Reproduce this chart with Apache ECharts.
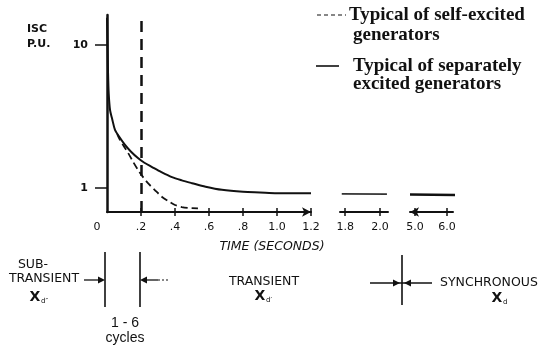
<!DOCTYPE html>
<html>
<head>
<meta charset="utf-8">
<title>Generator short-circuit current decay</title>
<script src="https://cdn.jsdelivr.net/npm/echarts@6/dist/echarts.min.js"></script>
<style>
  html, body { margin: 0; padding: 0; background: #fff; }
  #chart { width: 548px; height: 349px; }
</style>
</head>
<body>
<div id="chart"></div>
<script>
// ---- data (time in seconds, current in per-unit) ----
// separately excited generator, first part of the broken time axis (0 - 1.2 s)
const sepTime = [0, 0.003, 0.006, 0.01, 0.018, 0.03, 0.047, 0.07, 0.106, 0.14, 0.182, 0.22, 0.265, 0.32, 0.382, 0.44, 0.5, 0.58, 0.676, 0.8, 0.9, 1.0, 1.1, 1.2]
const sepIsc  = [15.5, 10, 6.5, 4.6, 3.5, 3.05, 2.55, 2.3, 2.0, 1.8, 1.62, 1.5, 1.4, 1.29, 1.19, 1.13, 1.08, 1.02, 0.97, 0.94, 0.93, 0.92, 0.92, 0.92]
// self excited generator (dashed), leaves the solid curve early
const selfTime = [0.06, 0.076, 0.1, 0.124, 0.15, 0.182, 0.21, 0.241, 0.28, 0.324, 0.36, 0.4, 0.44, 0.476, 0.535]
const selfIsc  = [2.38, 2.17, 1.95, 1.76, 1.55, 1.34, 1.2, 1.08, 0.97, 0.865, 0.81, 0.76, 0.735, 0.725, 0.72]
// later pieces of the broken axis
const sepTime2 = [1.78, 2.04]
const sepIsc2  = [0.91, 0.905]
const sepTime3 = [4.84, 6.56]
const sepIsc3  = [0.9, 0.89]
// end of sub-transient period (1 - 6 cycles)
const cycleMark = 0.195

// tick labels
const xTicks1 = [0.2, 0.4, 0.6, 0.8, 1.0, 1.2]
const xTicks2 = [1.8, 2.0]
const xTicks3 = [5.0, 6.0]
const yTicks = [1, 10]

const ink = '#111'
const sans = 'DejaVu Sans'
const serif = 'Liberation Serif'

const pairs = (xs, ys) => xs.map((x, i) => [x, ys[i]])

// y range of the log axis (same in all three pieces)
const yMin = 0.679
const yMax = 16.2

const logAxis = (grid, shown) => ({
  type: 'log',
  logBase: 10,
  gridIndex: grid,
  min: yMin,
  max: yMax,
  show: shown,
  axisLine: { show: shown, lineStyle: { color: ink, width: 2.5 } },
  axisTick: { show: shown, customValues: yTicks, length: 12, lineStyle: { color: ink, width: 1.5 } },
  axisLabel: {
    show: shown, customValues: yTicks, margin: 19,
    color: ink, fontFamily: sans, fontSize: 11, fontWeight: 'bold'
  },
  splitLine: { show: false }
})

const timeAxis = (grid, min, max, ticks, fmt, arrows) => ({
  type: 'value',
  gridIndex: grid,
  position: 'bottom',
  min: min,
  max: max,
  axisLine: { onZero: false, symbol: arrows, symbolSize: [7, 9], lineStyle: { color: ink, width: 2 } },
  axisTick: { customValues: ticks, length: 4, lineStyle: { color: ink, width: 1.5 } },
  axisLabel: {
    customValues: ticks, margin: 10, formatter: fmt,
    color: ink, fontFamily: sans, fontSize: 11
  },
  splitLine: { show: false }
})

// second x axis per piece, only for the part of the tick marks above the line
const upperTicks = (grid, min, max, ticks) => ({
  type: 'value',
  gridIndex: grid,
  position: 'bottom',
  min: min,
  max: max,
  axisLine: { show: false, onZero: false },
  axisTick: { inside: true, customValues: ticks, length: 4, lineStyle: { color: ink, width: 1.5 } },
  axisLabel: { show: false },
  splitLine: { show: false }
})

const fmtMain = v => (v < 1 ? '.' + Math.round(v * 10) : v.toFixed(1))
const fmtOne = v => v.toFixed(1)

const chart = echarts.init(document.getElementById('chart'), null, { renderer: 'canvas' })

const option = {
  backgroundColor: '#fff',
  animation: false,
  grid: [
    { left: 107, top: 15, width: 204, height: 197 },   // 0 - 1.2 s
    { left: 340, top: 15, width: 48, height: 197 },    // 1.8 - 2.0 s
    { left: 410, top: 15, width: 43, height: 197 }     // 5.0 - 6.0 s
  ],
  xAxis: [
    timeAxis(0, 0, 1.2, xTicks1, fmtMain, ['none', 'arrow']),
    timeAxis(1, 1.77, 2.046, xTicks2, fmtOne, ['none', 'none']),
    timeAxis(2, 4.84, 6.19, xTicks3, fmtOne, ['arrow', 'none']),
    upperTicks(0, 0, 1.2, xTicks1),
    upperTicks(1, 1.77, 2.046, xTicks2),
    upperTicks(2, 4.84, 6.19, xTicks3)
  ],
  yAxis: [logAxis(0, true), logAxis(1, false), logAxis(2, false)],
  series: [
    {
      name: 'Typical of separately excited generators',
      type: 'line',
      xAxisIndex: 0, yAxisIndex: 0,
      data: pairs(sepTime, sepIsc),
      symbol: 'none',
      smooth: 0.3,
      lineStyle: { color: ink, width: 2 },
      markLine: {   // boundary of the sub-transient period
        silent: true,
        symbol: ['none', 'none'],
        label: { show: false },
        lineStyle: { color: ink, width: 2.5, type: [11, 7] },
        data: [{ xAxis: cycleMark }]
      },
      z: 3
    },
    {
      name: 'Typical of self-excited generators',
      type: 'line',
      xAxisIndex: 0, yAxisIndex: 0,
      data: pairs(selfTime, selfIsc),
      symbol: 'none',
      smooth: 0.3,
      lineStyle: { color: ink, width: 1.8, type: [7, 4] },
      z: 3
    },
    {
      type: 'line',
      xAxisIndex: 1, yAxisIndex: 1,
      data: pairs(sepTime2, sepIsc2),
      symbol: 'none',
      clip: false,
      lineStyle: { color: '#333', width: 1.8 }
    },
    {
      type: 'line',
      xAxisIndex: 2, yAxisIndex: 2,
      data: pairs(sepTime3, sepIsc3),
      symbol: 'none',
      clip: false,
      lineStyle: { color: ink, width: 2.6 }
    }
  ]
}

chart.setOption(option)

// ---- annotations: legend, axis title, period labels underneath ----
const x0 = Math.round(chart.convertToPixel({ xAxisIndex: 0 }, 0)) - 2
const xc = Math.round(chart.convertToPixel({ xAxisIndex: 0 }, cycleMark))

const txt = (x, y, s, size, font, align, extra) => ({
  type: 'text', x: x, y: y, silent: true,
  style: Object.assign({
    text: s, fill: ink, fontSize: size, fontFamily: font,
    align: align || 'center', verticalAlign: 'middle'
  }, extra || {})
})
const seg = (x1, y1, x2, y2, w, dash) => ({
  type: 'line', silent: true,
  shape: { x1: x1, y1: y1, x2: x2, y2: y2 },
  style: { stroke: ink, lineWidth: w, lineDash: dash || null }
})
const head = (tipX, y, dir) => ({   // small filled arrow head, dir = 1 points right
  type: 'polygon', silent: true,
  shape: { points: [[tipX - dir * 7, y - 3.5], [tipX, y], [tipX - dir * 7, y + 3.5]] },
  style: { fill: ink }
})
// X with subscript d and primes
const xd = (cx, y, primes) => [
  txt(cx - 3, y, 'X', 14, sans, 'center', { fontWeight: 'bold' }),
  txt(cx + 3, y + 4, 'd' + primes, 7, sans, 'left')
]
const cap = 12.5   // size of the small capital captions
const bold = { fontWeight: 'bold' }

chart.setOption({
  graphic: [
    // origin label and y axis title
    txt(97, 227, '0', 11, sans),
    txt(27, 29, 'ISC', 11, sans, 'left', bold),
    txt(27, 44, 'P.U.', 11, sans, 'left', bold),
    // legend
    seg(317, 15, 346, 15, 1.2, [4, 3]),
    txt(349, 15, 'Typical of self-excited', 19, serif, 'left', bold),
    txt(353, 35, 'generators', 19, serif, 'left', bold),
    seg(316, 66, 339, 66, 1.6),
    txt(353, 66, 'Typical of separately', 19, serif, 'left', bold),
    txt(353, 84, 'excited generators', 19, serif, 'left', bold),
    // x axis title
    txt(272, 247, 'TIME (SECONDS)', cap, sans, 'center', { fontStyle: 'italic' }),
    // sub-transient period
    txt(33, 265, 'SUB-', cap, sans),
    txt(44, 279, 'TRANSIENT', cap, sans),
    ...xd(38, 297, '″'),
    seg(x0, 252, x0, 307, 1.6),
    seg(xc, 252, xc, 307, 1.6),
    seg(84, 280, x0 - 5, 280, 1.3),
    head(x0, 280, 1),
    head(xc, 280, -1),
    seg(xc + 5, 280, xc + 18, 280, 1.3),
    seg(xc + 18, 280, xc + 29, 280, 1, [2, 2]),
    txt(125, 323, '1 - 6', 14, 'Liberation Sans'),
    txt(125, 338, 'cycles', 14, 'Liberation Sans'),
    // transient period
    txt(264, 282, 'TRANSIENT', cap, sans),
    ...xd(263, 296, '′'),
    // synchronous
    seg(370, 283, 432, 283, 1.6),
    seg(402, 255, 402, 305, 1.6),
    head(400, 283, 1),
    head(404, 283, -1),
    txt(440, 283, 'SYNCHRONOUS', cap, sans, 'left'),
    ...xd(500, 298, '')
  ]
})
</script>
</body>
</html>
